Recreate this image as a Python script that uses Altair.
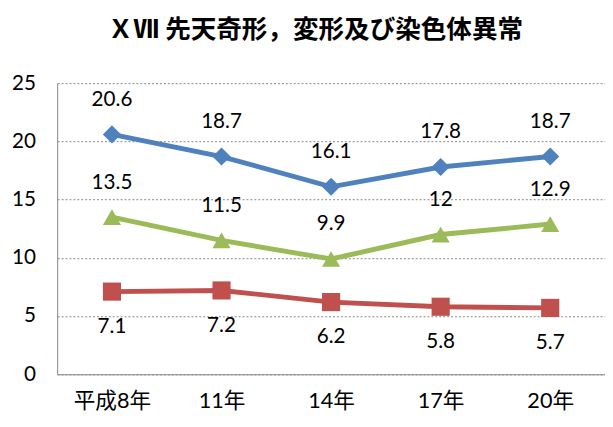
import altair as alt
import pandas as pd

years = ["平成8年", "11年", "14年", "17年", "20年"]
series_names = ["A", "B", "C"]
blue_vals = [20.6, 18.7, 16.1, 17.8, 18.7]
red_vals = [7.1, 7.2, 6.2, 5.8, 5.7]
green_vals = [13.5, 11.5, 9.9, 12, 12.9]
colors = ["#4F81BD", "#C0504D", "#9BBB59"]
shapes = ["diamond", "square", "triangle-up"]
label_dy = [-35, 36, -35]

rows = []
for name, vals in zip(series_names, [blue_vals, red_vals, green_vals]):
    for y, v in zip(years, vals):
        rows.append({"year": y, "value": v, "series": name})
df = pd.DataFrame(rows)

FONT = "Lato, 'Noto Sans CJK JP', sans-serif"

x = alt.X("year:N", sort=years, scale=alt.Scale(type="point", padding=0.5),
          axis=alt.Axis(title=None, labelAngle=0, ticks=False, domainColor="#868686",
                        labelFontSize=22, labelFont=FONT, labelColor="#000", labelPadding=17,
                        grid=False))
y = alt.Y("value:Q", scale=alt.Scale(domain=[0, 25], nice=False),
          axis=alt.Axis(title=None, values=[0, 5, 10, 15, 20, 25], ticks=False,
                        domainColor="#868686", grid=True, gridDash=[2, 2], gridColor="#868686",
                        labelFontSize=21, labelFont=FONT, labelColor="#000", labelPadding=22))
color = alt.Color("series:N", scale=alt.Scale(domain=series_names, range=colors), legend=None)

base = alt.Chart(df)
lines = base.mark_line(strokeWidth=5).encode(x=x, y=y, color=color)
points = base.mark_point(filled=True, opacity=1, size=340).encode(
    x=x, y=y, color=color,
    shape=alt.Shape("series:N", scale=alt.Scale(domain=series_names, range=shapes), legend=None))

layers = [lines, points]
for name, dy in zip(series_names, label_dy):
    layers.append(
        alt.Chart(df[df.series == name]).mark_text(dy=dy, fontSize=21, font=FONT, color="#000")
        .encode(x=x, y=y, text=alt.Text("value:Q"))
    )

chart = alt.layer(*layers).properties(
    width=557, height=296,
    title=alt.TitleParams("ＸⅦ 先天奇形，変形及び染色体異常", fontSize=26,
                          font="'Liberation Serif', 'Noto Sans CJK JP'",
                          fontWeight="bold", anchor="middle", dx=-16, offset=30, color="#000"),
    autosize=alt.AutoSizeParams(type="none"),
    padding={"left": 50, "top": 73, "right": 0, "bottom": 40},
).configure_view(stroke=None)

chart.save("out.html", embed_options={"renderer": "svg", "actions": False})
